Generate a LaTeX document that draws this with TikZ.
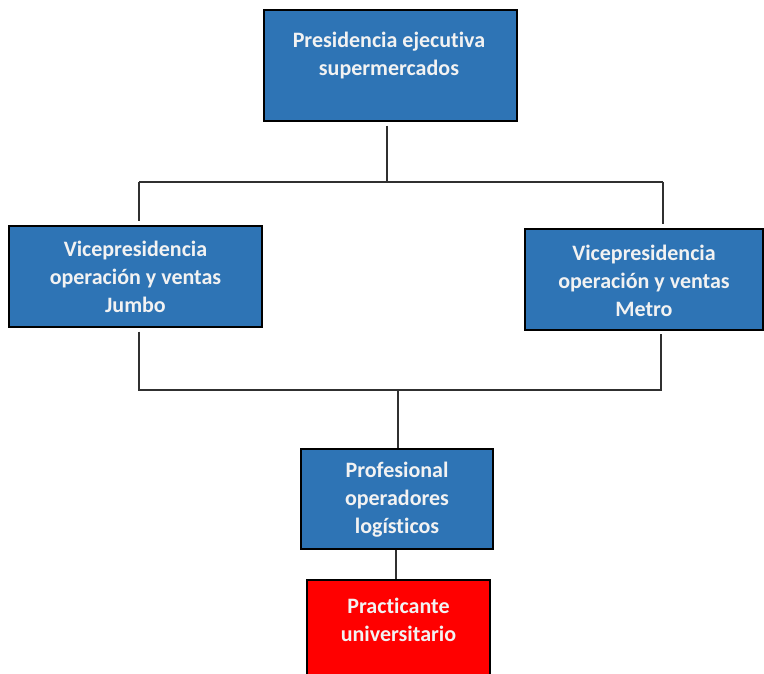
\documentclass[tikz,border=0pt]{standalone}
\usepackage{fontspec}
\setmainfont{Carlito}[Ligatures=NoCommon]
\usetikzlibrary{calc}
\definecolor{boxblue}{HTML}{2E74B5}
\definecolor{boxred}{HTML}{FF0000}
\definecolor{linec}{HTML}{303030}
\begin{document}
\begin{tikzpicture}[x=1pt,y=-1pt,
  box/.style={draw=black,line width=1.3pt,fill=boxblue,inner sep=0pt},
  redbox/.style={box,fill=boxred},
  txt/.style={text=white!95!black,font=\fontsize{22}{28}\selectfont\bfseries,align=center,inner sep=0pt},
  conn/.style={draw=linec,line width=1.3pt}]
\useasboundingbox (0,0) rectangle (764,674);
\begin{scope}
\clip (0,0) rectangle (764,674);
\node[box,minimum width=253pt,minimum height=111pt] (pres) at (390.5,65.5) {};
\node[txt] (prest) at (389,56) {Presidencia ejecutiva\\supermercados};
\node[box,minimum width=253pt,minimum height=101pt] (jumbo) at (135.5,276.5) {};
\node[txt] (jumbot) at (135.5,277) {Vicepresidencia\\operación y ventas\\Jumbo};
\node[box,minimum width=238pt,minimum height=101pt] (metro) at (644,279.5) {};
\node[txt] (metrot) at (644,281) {Vicepresidencia\\operación y ventas\\Metro};
\node[box,minimum width=192pt,minimum height=100pt] (prof) at (397,499) {};
\node[txt] (proft) at (397,500) {Profesional\\operadores\\logísticos};
\node[redbox,minimum width=183pt,minimum height=100pt] (prac) at (398.5,630) {};
\node[txt] (pract) at (398.5,620) {Practicante\\universitario};
\end{scope}
\coordinate (top) at (387,182);
\coordinate (hl) at (139,182);
\coordinate (hr) at (663,182);
\coordinate (bl) at (139,390);
\coordinate (br) at (661,390);
\coordinate (bm) at (398,390);
\draw[conn] (top |- pres.south) ++(0,4) -- (top);
\draw[conn] (hl) -- (hr);
\draw[conn] (hl) -- ($(hl |- jumbo.north)+(0,-4)$);
\draw[conn] (hr) -- ($(hr |- metro.north)+(0,-4)$);
\draw[conn] ($(bl |- jumbo.south)+(0,4)$) -- (bl) -- (br) -- ($(br |- metro.south)+(0,3)$);
\draw[conn] (bm) -- (bm |- prof.north);
\draw[conn] ($(prof.south)+(-1,0)$) -- ($(prac.north)+(-2.5,0)$);
\end{tikzpicture}
\end{document}
